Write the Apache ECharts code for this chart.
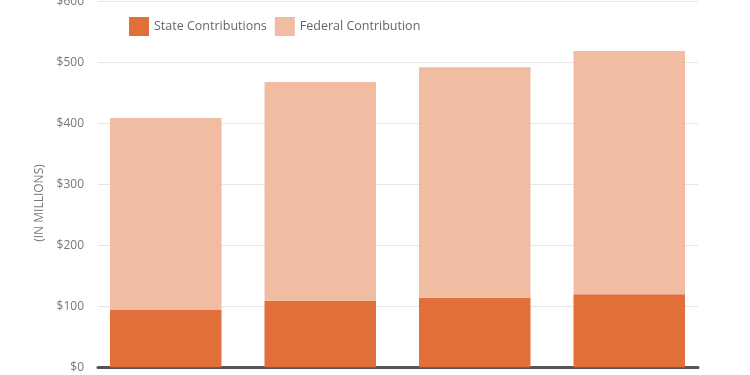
<!DOCTYPE html>
<html>
<head>
<meta charset="utf-8">
<script src="https://cdn.jsdelivr.net/npm/echarts@6/dist/echarts.min.js"></script>
<style>
  html, body { margin: 0; padding: 0; background: #fff; }
  #main { width: 750px; height: 375px; }
</style>
</head>
<body>
<div id="main"></div>
<script>
var categories = ['Year 1', 'Year 2', 'Year 3', 'Year 4'];
var stateValues = [94, 109, 114, 120];
var federalValues = [315, 359, 378, 399];
var yTicks = [0, 100, 200, 300, 400, 500, 600];

var myChart = echarts.init(document.getElementById('main'));
var font = '"Open Sans", sans-serif';

var option = {
    animation: false,
    // grid 0 carries the value axis + gridlines, grid 1 carries the bars
    grid: [
        {left: 98, right: 52, top: 1.5, bottom: 7.7, outerBoundsMode: 'none'},
        {left: 88.5, right: 43.5, top: 1.5, bottom: 7.7, outerBoundsMode: 'none'}
    ],
    legend: {
        left: 124,
        top: 12,
        icon: 'rect',
        itemWidth: 20,
        itemHeight: 19,
        itemGap: 8,
        textStyle: {color: '#666', fontSize: 12.5, fontFamily: font},
        data: ['State Contributions', 'Federal Contribution']
    },
    graphic: [{
        type: 'text',
        x: 40,
        y: 203,
        rotation: Math.PI / 2,
        style: {
            text: '(IN MILLIONS)',
            fill: '#777',
            font: '12px ' + font,
            align: 'center',
            verticalAlign: 'middle'
        }
    }],
    xAxis: [
        {
            type: 'category',
            gridIndex: 0,
            data: categories,
            axisLine: {lineStyle: {color: '#555', width: 3}},
            axisTick: {show: false},
            axisLabel: {show: false}
        },
        {
            type: 'category',
            gridIndex: 1,
            data: categories,
            show: false
        }
    ],
    yAxis: [
        {
            type: 'value',
            gridIndex: 0,
            min: yTicks[0],
            max: yTicks[yTicks.length - 1],
            interval: 100,
            axisLine: {show: false},
            axisTick: {show: false},
            axisLabel: {
                margin: 14,
                color: '#777',
                fontSize: 12,
                fontFamily: font,
                formatter: function (v) { return '$' + v; }
            },
            splitLine: {lineStyle: {color: '#e6e6e6', width: 1}}
        },
        {
            type: 'value',
            gridIndex: 1,
            min: yTicks[0],
            max: yTicks[yTicks.length - 1],
            interval: 100,
            show: false,
            splitLine: {show: false}
        }
    ],
    series: [
        {
            name: 'State Contributions',
            type: 'bar',
            stack: 'total',
            xAxisIndex: 1,
            yAxisIndex: 1,
            barWidth: 111.5,
            itemStyle: {color: '#E06F3A'},
            data: stateValues
        },
        {
            name: 'Federal Contribution',
            type: 'bar',
            stack: 'total',
            xAxisIndex: 1,
            yAxisIndex: 1,
            barWidth: 111.5,
            itemStyle: {color: '#F0BDA2'},
            data: federalValues
        }
    ]
};

myChart.setOption(option);
</script>
</body>
</html>
